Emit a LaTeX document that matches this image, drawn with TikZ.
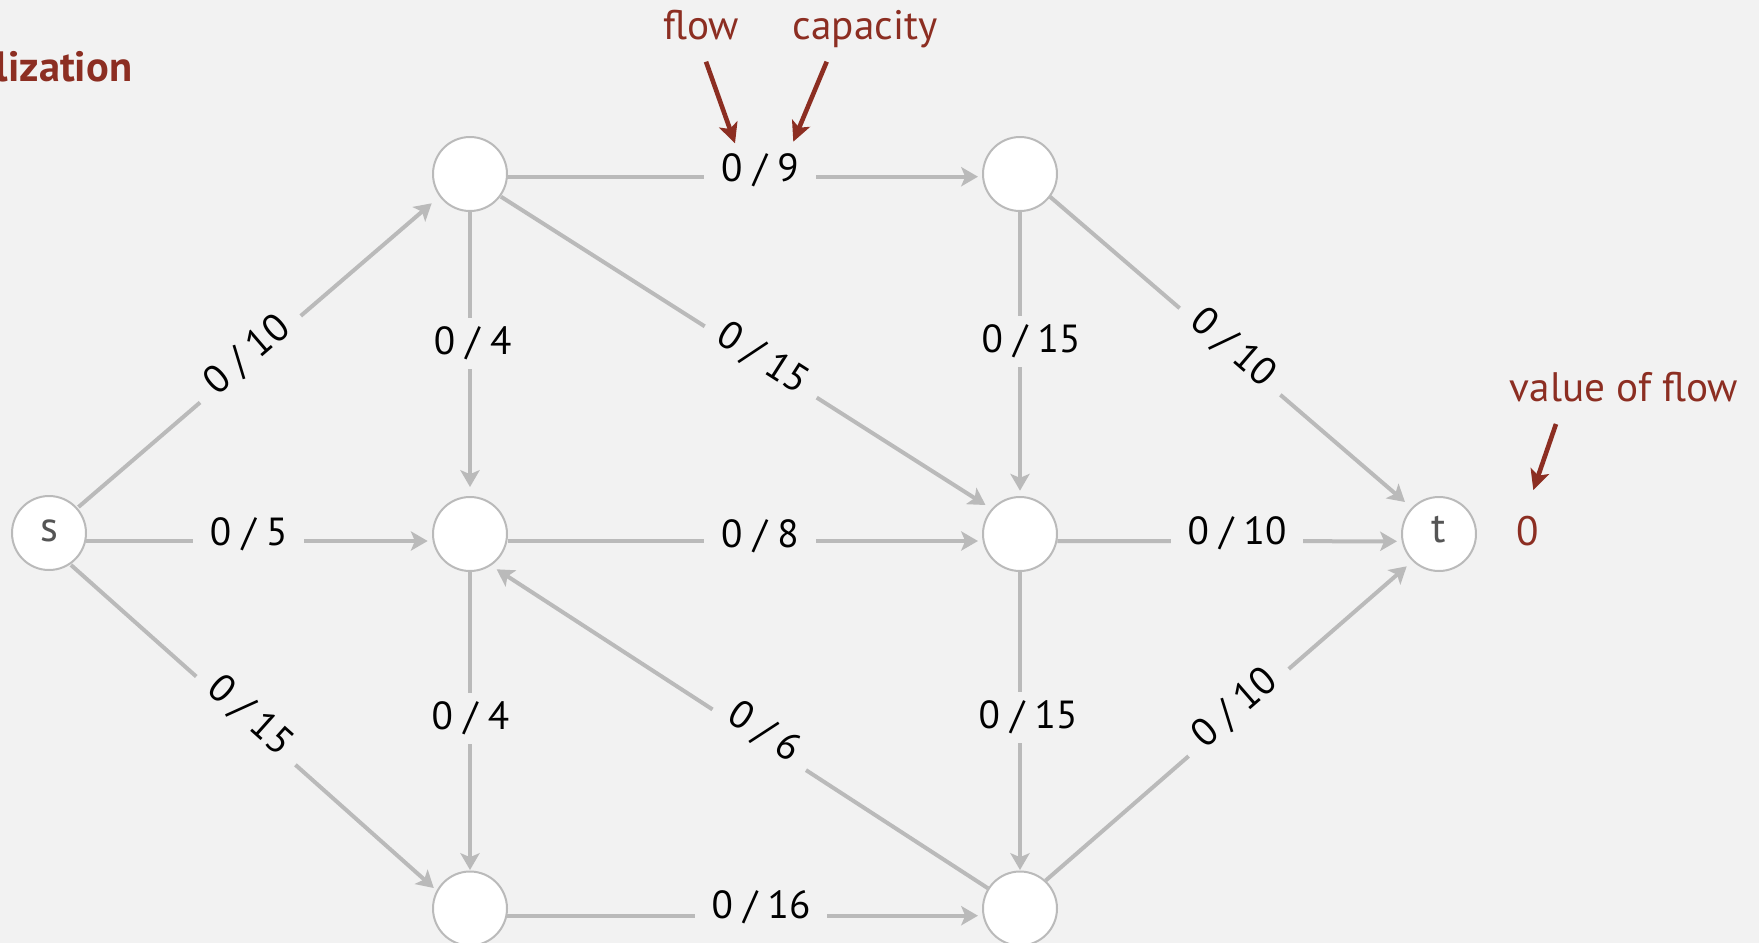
\documentclass[tikz,border=0pt]{standalone}
\usepackage{fontspec}
\setmainfont{PT Sans}
\usetikzlibrary{arrows.meta}
\definecolor{bg}{HTML}{F2F2F2}
\definecolor{edgegray}{HTML}{BABABA}
\definecolor{darkred}{HTML}{8C2E22}
\definecolor{lettergray}{HTML}{555555}
\begin{document}
\begin{tikzpicture}[x=0.25pt,y=-0.25pt,
  vertex/.style={circle,draw=edgegray,line width=0.5pt,fill=white,minimum size=18.5pt,inner sep=0pt,
    text=lettergray,font=\fontsize{10.6}{12}\selectfont,text height=4.2pt,text depth=0pt},
  edge/.style={draw=edgegray,line width=1pt,-{Stealth[length=4.2pt,width=4.8pt,inset=1pt]}},
  lbl/.style={fill=bg,inner xsep=4.2pt,inner ysep=2.2pt,font=\fontsize{9.8}{12}\selectfont,text=black},
  note/.style={text=darkred,font=\fontsize{10.3}{12}\selectfont,inner sep=0pt},
  notearrow/.style={draw=darkred,line width=1.15pt,-{Stealth[length=5pt,width=4.8pt,inset=1.2pt]}}
]
\fill[bg] (0,0) rectangle (1759,943);
\useasboundingbox (0,0) rectangle (1759,943);

% heading (cut off at the left edge)
\node[note,font=\fontsize{10.6}{12}\selectfont\bfseries,anchor=base east] (head) at (133,81.7) {lization};

% vertices
\node[vertex] (s) at (49,533) {s};
\node[vertex] (A) at (470,174) {};
\node[vertex] (B) at (1020,174) {};
\node[vertex] (C) at (470,534) {};
\node[vertex] (D) at (1020,534) {};
\node[vertex] (t) at (1439,534) {t};
\node[vertex] (E) at (470,908.5) {};
\node[vertex] (F) at (1020,908.5) {};

% edges
\draw[edge] ([shift={(29.5,-26)}]s.center) -- ([shift={(-38.3,29.3)}]A.center);
\draw[edge] ([shift={(36.8,8)}]s.center) -- ([shift={(-42.3,7)}]C.center);
\draw[edge] ([shift={(22,32)}]s.center) -- ([shift={(-36.2,-20.5)}]E.center);
\draw[edge] ([shift={(37,2.7)}]A.center) -- ([shift={(-42,2.7)}]B.center);
\draw[edge] ([shift={(0,37.7)}]A.center) -- ([shift={(0,-47)}]C.center);
\draw[edge] ([shift={(31,22.7)}]A.center) -- ([shift={(-34.5,-29)}]D.center);
\draw[edge] ([shift={(0,37)}]B.center) -- ([shift={(0,-43.3)}]D.center);
\draw[edge] ([shift={(30,22.7)}]B.center) -- ([shift={(-34,-32)}]t.center);
\draw[edge] ([shift={(37.5,7)}]C.center) -- ([shift={(-42,7)}]D.center);
\draw[edge] ([shift={(0,37.7)}]C.center) -- ([shift={(0,-38.5)}]E.center);
\draw[edge] ([shift={(37.3,7)}]D.center) -- ([shift={(-42,7.3)}]t.center);
\draw[edge] ([shift={(0,37.7)}]D.center) -- ([shift={(0,-38.5)}]F.center);
\draw[edge] ([shift={(37,7.2)}]E.center) -- ([shift={(-42,7.2)}]F.center);
\draw[edge] ([shift={(25.6,-27.9)}]F.center) -- ([shift={(-32.3,32.3)}]t.center);
\draw[edge] ([shift={(-32,-20.2)}]F.center) -- ([shift={(26.7,35.3)}]C.center);

% edge labels
\node[lbl,rotate=40.7] (lsA) at (247.5,355.8) {0 / 10};
\node[lbl] (lsC) at (248.7,534) {0 / 5};
\node[lbl,rotate=-41.7] (lsE) at (250,716) {0 / 15};
\node[lbl] (lAB) at (760,170.5) {0 / 9};
\node[lbl] (lAC) at (472.6,343) {0 / 4};
\node[lbl,rotate=-32.5] (lAD) at (762.6,359) {0 / 15};
\node[lbl] (lBD) at (1031,341.5) {0 / 15};
\node[lbl,rotate=-40.7] (lBt) at (1233,348) {0 / 10};
\node[lbl] (lCD) at (760,536) {0 / 8};
\node[lbl] (lCE) at (470.5,718) {0 / 4};
\node[lbl] (lDt) at (1237,533.7) {0 / 10};
\node[lbl] (lDF) at (1028,717) {0 / 15};
\node[lbl] (lEF) at (761,907.5) {0 / 16};
\node[lbl,rotate=41] (lFt) at (1235,708.3) {0 / 10};
\node[lbl,rotate=-33] (lFC) at (764,732.5) {0 / 6};

% annotations
\node[note,anchor=base] (flow) at (701,39.3) {flow};
\node[note,anchor=base] (cap) at (865,39.3) {capacity};
\node[note,anchor=base] (val) at (1624,401.7) {value of flow};
\node[note] (zero) at (1528,530.7) {0};
\draw[notearrow] ([shift={(5,22.4)}]flow.base) -- ([shift={(-25,-27.2)}]lAB.center);
\draw[notearrow] ([shift={(-38.3,22.4)}]cap.base) -- ([shift={(33.3,-28.8)}]lAB.center);
\draw[notearrow] ([shift={(-68,22.3)}]val.base) -- ([shift={(5.3,-40.7)}]zero.center);
\end{tikzpicture}
\end{document}
